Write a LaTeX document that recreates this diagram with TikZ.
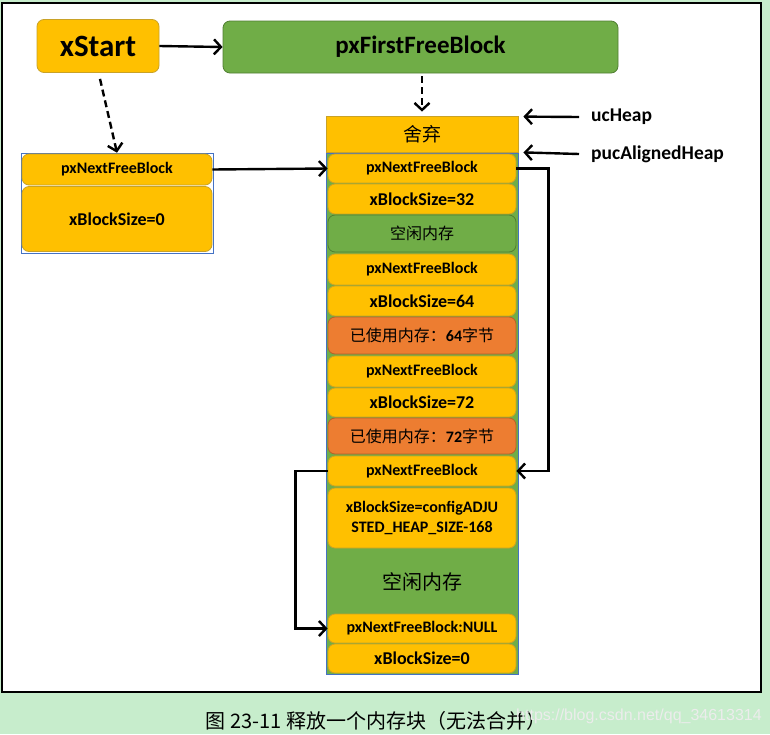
\documentclass[tikz,border=0pt]{standalone}
\usepackage{fontspec}
\setmainfont{Carlito}
\newfontfamily\cjk{Noto Sans CJK SC}
\newfontfamily\wm{Liberation Sans}
\usetikzlibrary{arrows.meta}
\definecolor{bgg}{HTML}{C7EDCC}
\definecolor{gold}{HTML}{FFC000}
\definecolor{goldd}{HTML}{C9A227}
\definecolor{grn}{HTML}{70AD47}
\definecolor{grnd}{HTML}{507E32}
\definecolor{org}{HTML}{ED7D31}
\definecolor{orgd}{HTML}{B4622A}
\definecolor{blu}{HTML}{4472C4}
\tikzset{
  base/.style={rounded corners=7pt, line width=0.8pt, font=\bfseries\fontsize{16}{18}\selectfont, align=center, inner sep=0pt},
  gb/.style={base, fill=gold, draw=goldd},
  gr/.style={base, fill=grn, draw=grnd},
  ob/.style={base, fill=org, draw=orgd},
  big/.style={font=\bfseries\fontsize{18}{20}\selectfont},
  arr/.style={line width=2.4pt, -{Straight Barb[length=7pt,width=15pt,line width=2.4pt]}},
  darr/.style={arr, dash pattern=on 7pt off 4pt},
  lbl/.style={font=\bfseries\fontsize{19.5}{21}\selectfont, anchor=west, inner sep=0pt}
}
\begin{document}
\begin{tikzpicture}[x=1pt,y=-1pt]
\useasboundingbox (0,0) rectangle (770,734);
\fill[bgg] (0,0) rectangle (770,734);
\draw[fill=white, line width=1.5pt] (2,3) rectangle (761,692);

% top
\node (xs) [gb, minimum width=122, minimum height=53, font=\bfseries\fontsize{31}{33}\selectfont] at (98,46) {xStart};
\node (pf) [gr, minimum width=395, minimum height=52, font=\bfseries\fontsize{25}{27}\selectfont] at (420.5,47) {pxFirstFreeBlock};
\draw[arr] (xs.east) -- (pf.west);

% discard + column
\node (dis) [fill=gold, draw=goldd, line width=0.8pt, minimum width=192, minimum height=36, inner sep=0pt, font=\fontsize{19}{21}\selectfont\cjk] at (422,134) {舍弃};
\node (col) [fill=grn, draw=blu, line width=0.6pt, minimum width=192, minimum height=521, inner sep=0pt] at (422,413.5) {};

\node (r1) [gb, minimum width=188, minimum height=29] at (422,168.5) {pxNextFreeBlock};
\node (r2) [gb, big, minimum width=188, minimum height=30] at (422,199) {xBlockSize=32};
\node (r3) [gr, minimum width=188, minimum height=37, font=\fontsize{16}{18}\selectfont\cjk] at (422,233.5) {空闲内存};
\node (r4) [gb, minimum width=188, minimum height=31] at (422,269.5) {pxNextFreeBlock};
\node (r5) [gb, big, minimum width=188, minimum height=30] at (422,301) {xBlockSize=64};
\node (r6) [ob, minimum width=188, minimum height=37] at (422,335.5) {{\mdseries\cjk 已使用内存：}64{\mdseries\cjk 字节}};
\node (r7) [gb, minimum width=188, minimum height=31] at (422,371.5) {pxNextFreeBlock};
\node (r8) [gb, big, minimum width=188, minimum height=29] at (422,402.5) {xBlockSize=72};
\node (r9) [ob, minimum width=188, minimum height=36] at (422,436) {{\mdseries\cjk 已使用内存：}72{\mdseries\cjk 字节}};
\node (r10) [gb, minimum width=188, minimum height=30] at (422,471) {pxNextFreeBlock};
\node (r11) [gb, minimum width=188, minimum height=60] at (422,518) {xBlockSize=configADJU\\[2pt]STED\_HEAP\_SIZE-168};
\node (fr) [font=\fontsize{20}{22}\selectfont\cjk, inner sep=0pt] at (422,582) {空闲内存};
\node (r12) [gb, minimum width=188, minimum height=29] at (422,628.5) {pxNextFreeBlock:NULL};
\node (r13) [gb, big, minimum width=188, minimum height=29] at (422,658.5) {xBlockSize=0};

% left block
\node (lb) [draw=blu, line width=0.6pt, minimum width=192, minimum height=100, inner sep=0pt] at (117,203) {};
\node (l1) [gb, minimum width=190, minimum height=31] at (117,169.5) {pxNextFreeBlock};
\node (l2) [gb, big, minimum width=190, minimum height=65] at (117,219) {xBlockSize=0};

% labels
\node (uc) [lbl] at (591,117) {ucHeap};
\node (pa) [lbl] at (591,154) {pucAlignedHeap};
\draw[arr] ([xshift=-12pt]uc.west) -- ([xshift=5pt,yshift=-1pt]dis.north east);
\draw[arr] ([xshift=-12pt]pa.west) -- ([xshift=5pt]dis.south east);

% connectors
\draw[darr] ([xshift=2pt,yshift=-6pt]xs.south) -- (lb.north);
\draw[darr] ([yshift=-3pt]pf.south -| dis.north) -- ([yshift=4pt]dis.north);
\draw[arr] (l1.east) -- (r1.west);
\draw[arr, rounded corners=0pt] (r1.east) -- ([xshift=32pt]r1.east) |- (r10.east);
\draw[arr] (r10.west) -- ([xshift=-32pt]r10.west) |- (r12.west);

% caption and watermark
\node (cap) [font=\fontsize{20}{22}\selectfont\cjk, inner sep=0pt] at (376,721) {图 23-11 释放一个内存块（无法合并）};
\node (wm) [font=\fontsize{16}{18}\selectfont\wm, text=white!85!gray, inner sep=0pt, anchor=west] at (516,716) {https://blog.csdn.net/qq\_34613314};
\end{tikzpicture}
\end{document}
